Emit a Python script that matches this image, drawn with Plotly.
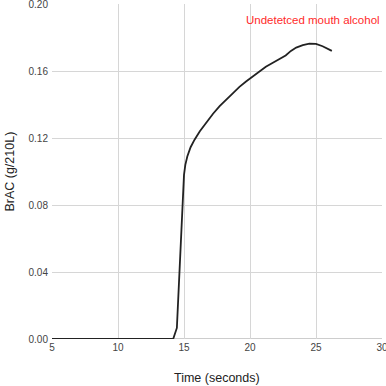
import plotly.graph_objects as go

# Data (time in seconds, BrAC in g/210L)
time_s = [5, 14.18, 14.46, 15.0, 15.1, 15.25, 15.5, 15.8, 16.2, 16.7, 17.2, 17.7, 18.2,
          18.7, 19.2, 19.7, 20.2, 20.7, 21.2, 21.7, 22.2, 22.7, 23.1, 23.5, 24.0,
          24.5, 25.0, 25.5, 26.2]
brac = [0.0, 0.0, 0.0066, 0.098, 0.104, 0.109, 0.1145, 0.119, 0.124, 0.1295, 0.1345,
        0.139, 0.1430, 0.1470, 0.1505, 0.1537, 0.1568, 0.1598, 0.1625, 0.1648, 0.1668,
        0.1693, 0.1720, 0.1740, 0.1755, 0.1763, 0.1762, 0.1748, 0.1720]

x_ticks = [5, 10, 15, 20, 25, 30]
y_ticks = [0.00, 0.04, 0.08, 0.12, 0.16, 0.20]
y_tick_labels = ["0.00", "0.04", "0.08", "0.12", "0.16", "0.20"]

annotation_text = "Undetetced mouth alcohol"
x_title = "Time (seconds)"
y_title = "BrAC (g/210L)"

FONT = "Liberation Sans, Arial, sans-serif"

fig = go.Figure()
fig.add_trace(go.Scatter(
    x=time_s, y=brac, mode="lines",
    line=dict(color="#222222", width=1.8),
    showlegend=False, hoverinfo="skip", cliponaxis=False,
))

fig.add_annotation(
    x=1.0, y=0.953, xref="paper", yref="paper", text=annotation_text,
    showarrow=False, xanchor="right", yanchor="middle",
    font=dict(family=FONT, size=11.5, color="#ff2a2a"),
)
fig.add_annotation(
    x=0.5, y=-0.115, xref="paper", yref="paper", text=x_title,
    showarrow=False, xanchor="center", yanchor="middle",
    font=dict(family=FONT, size=12.5, color="#222222"),
)
fig.add_annotation(
    x=-0.13, y=0.5, xref="paper", yref="paper", text=y_title, textangle=-90,
    showarrow=False, xanchor="center", yanchor="middle",
    font=dict(family=FONT, size=12.5, color="#222222"),
)

fig.update_layout(
    width=386, height=386,
    margin=dict(l=52, r=4, t=4, b=47, autoexpand=False),
    paper_bgcolor="white", plot_bgcolor="white",
    font=dict(family=FONT, color="#444444"),
)

fig.update_xaxes(
    range=[5, 30], tickvals=x_ticks, ticktext=[str(v) for v in x_ticks],
    showgrid=True, gridcolor="#d6d6d6", gridwidth=1,
    zeroline=False, showline=False, ticks="", automargin=False,
    ticklabeloverflow="allow", ticklabelstandoff=1,
    tickfont=dict(family=FONT, size=10, color="#444444"),
)
fig.update_yaxes(
    range=[0, 0.2], tickvals=y_ticks, ticktext=y_tick_labels,
    showgrid=True, gridcolor="#d6d6d6", gridwidth=1,
    zeroline=False, showline=False, ticks="", automargin=False,
    ticklabeloverflow="allow", ticklabelstandoff=3,
    tickfont=dict(family=FONT, size=10, color="#444444"),
)

# bottom baseline darker
fig.add_shape(type="line", xref="paper", yref="y", x0=0, x1=1, y0=0, y1=0,
              line=dict(color="#9a9a9a", width=1), layer="below")

fig.write_html(
    "out.html",
    config={"displayModeBar": False, "staticPlot": True},
    post_script="document.body.style.margin='0';document.body.style.overflow='hidden';",
)
